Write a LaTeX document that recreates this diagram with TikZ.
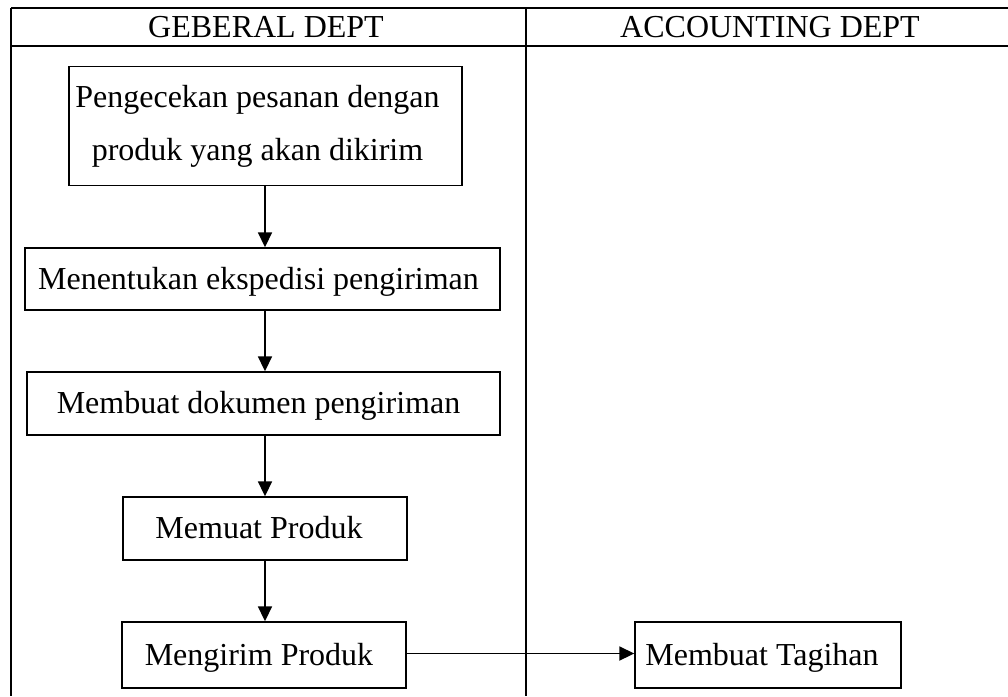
\documentclass[tikz,border=0pt]{standalone}
\usepackage{fontspec}
\setmainfont{Liberation Serif}
\usetikzlibrary{arrows.meta}

\tikzset{
  frame/.style={line width=2pt},
  stepbox/.style={draw, line width=1.4pt, inner sep=0pt, fill=white},
  steptext/.style={anchor=base, inner sep=0pt, font=\fontsize{32}{53}\selectfont},
  head/.style={anchor=base, inner sep=0pt, font=\fontsize{32}{40}\selectfont},
  flow/.style={line width=1.8pt, -{Triangle[length=15pt,width=14pt]}}
}

\begin{document}
\begin{tikzpicture}[x=1pt, y=-1pt]
  \useasboundingbox (0,0) rectangle (1008,696);

  % swimlane frame
  \coordinate (tl) at (11,7.5);
  \coordinate (tr) at (1008,7.5);
  \coordinate (hl) at (11,45.5);
  \coordinate (hr) at (1008,45.5);
  \coordinate (bl) at (11,696);
  \coordinate (dt) at (526,7.5);
  \coordinate (db) at (526,696);
  \draw[frame] (tl) -- (tr);
  \draw[frame] (hl) -- (hr);
  \draw[frame] (tl) -- (bl);
  \draw[frame] (dt) -- (db);

  % lane titles
  \node[head] (lane1) at (266,37) {GEBERAL DEPT};
  \node[head] (lane2) at (770,37) {ACCOUNTING DEPT};

  % process boxes
  \node[stepbox, minimum width=393pt, minimum height=119pt] (b1) at (265.5,126) {};
  \node[stepbox, minimum width=475pt, minimum height=62pt]  (b2) at (262.5,279) {};
  \node[stepbox, minimum width=473pt, minimum height=63pt]  (b3) at (263.5,403.5) {};
  \node[stepbox, minimum width=284pt, minimum height=63pt]  (b4) at (265,528.5) {};
  \node[stepbox, minimum width=284pt, minimum height=66pt]  (b5) at (264,655) {};
  \node[stepbox, minimum width=266pt, minimum height=66pt]  (b6) at (768,655) {};

  % box labels
  \node[steptext, anchor=center, align=center, xshift=-8pt] (t1) at (b1.center)
    {Pengecekan pesanan dengan\\produk yang akan dikirim};
  \node[steptext, xshift=-4pt, yshift=-10pt] (t2) at (b2.center) {Menentukan ekspedisi pengiriman};
  \node[steptext, xshift=-5pt, yshift=-10pt] (t3) at (b3.center) {Membuat dokumen pengiriman};
  \node[steptext, xshift=-6pt, yshift=-10pt] (t4) at (b4.center) {Memuat Produk};
  \node[steptext, xshift=-5pt, yshift=-10pt] (t5) at (b5.center) {Mengirim Produk};
  \node[steptext, xshift=-6pt, yshift=-10pt] (t6) at (b6.center) {Membuat Tagihan};

  % flow connectors
  \draw[flow] (b1.south -| b4.center) -- (b2.north -| b4.center);
  \draw[flow] (b2.south -| b4.center) -- (b3.north -| b4.center);
  \draw[flow] (b3.south -| b4.center) -- (b4.north);
  \draw[flow] (b4.south) -- (b5.north -| b4.center);
  \draw[flow] ([yshift=1.5pt]b5.east) -- ([yshift=1.5pt]b6.west);
\end{tikzpicture}
\end{document}
